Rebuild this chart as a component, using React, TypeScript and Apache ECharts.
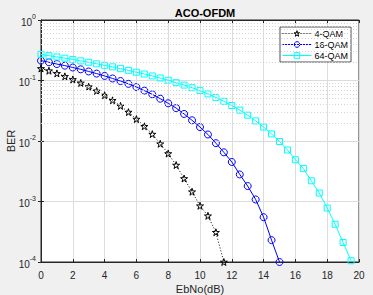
import React, { useEffect, useRef } from "react";
import * as echarts from "echarts";

const ebno4 = [0, 0.5, 1, 1.5, 2, 2.5, 3, 3.5, 4, 4.5, 5, 5.5, 6, 6.5, 7, 7.5, 8, 8.5, 9, 9.5, 10, 10.5, 11, 11.5];
const ber4 = [0.158, 0.145, 0.131, 0.117, 0.104, 0.091, 0.079, 0.067, 0.057, 0.047, 0.038, 0.030, 0.023, 0.0175, 0.013, 0.009, 0.0062, 0.004, 0.0024, 0.00145, 0.00085, 0.00058, 0.00031, 0.0001];

const ebno16 = [0, 0.5, 1, 1.5, 2, 2.5, 3, 3.5, 4, 4.5, 5, 5.5, 6, 6.5, 7, 7.5, 8, 8.5, 9, 9.5, 10, 10.5, 11, 11.5, 12, 12.5, 13, 13.5, 14, 14.5, 15];
const ber16 = [0.213, 0.2, 0.187, 0.176, 0.164, 0.153, 0.141, 0.13, 0.119, 0.108, 0.098, 0.088, 0.078, 0.068, 0.059, 0.05, 0.042, 0.035, 0.028, 0.022, 0.017, 0.0128, 0.0092, 0.0065, 0.0045, 0.0028, 0.0018, 0.00108, 0.00055, 0.00023, 0.0001];

const ebno64 = [0, 0.5, 1, 1.5, 2, 2.5, 3, 3.5, 4, 4.5, 5, 5.5, 6, 6.5, 7, 7.5, 8, 8.5, 9, 9.5, 10, 10.5, 11, 11.5, 12, 12.5, 13, 13.5, 14, 14.5, 15, 15.5, 16, 16.5, 17, 17.5, 18, 18.5, 19, 19.5];
const ber64 = [0.27, 0.257, 0.245, 0.234, 0.223, 0.211, 0.2, 0.189, 0.178, 0.168, 0.157, 0.147, 0.137, 0.128, 0.119, 0.11, 0.101, 0.092, 0.084, 0.076, 0.068, 0.06, 0.0525, 0.0453, 0.0386, 0.0324, 0.0267, 0.0215, 0.017, 0.0131, 0.0098, 0.0071, 0.0049, 0.0035, 0.0022, 0.00138, 0.00078, 0.00042, 0.00021, 0.000105];

const seriesNames = ["4-QAM", "16-QAM", "64-QAM"];
const seriesColors = ["#000000", "#0000ff", "#00ffff"];
const seriesDash: any[] = [[1, 2], "solid", "solid"];
const minorGridValues = [
  2e-4, 3e-4, 4e-4, 5e-4, 6e-4, 7e-4, 8e-4, 9e-4,
  2e-3, 3e-3, 4e-3, 5e-3, 6e-3, 7e-3, 8e-3, 9e-3,
  2e-2, 3e-2, 4e-2, 5e-2, 6e-2, 7e-2, 8e-2, 9e-2,
  0.2, 0.3, 0.4, 0.5, 0.6, 0.7, 0.8, 0.9,
];

const STAR = "path://M50,0 L61,35 L98,35 L68,57 L79,91 L50,70 L21,91 L32,57 L2,35 L39,35 Z";
const AX = "#262626";
const FONT = "'Liberation Sans', Arial, sans-serif";
const HOLLOW = "rgba(255,255,255,0)";

export default function App() {
  const ref = useRef<HTMLDivElement>(null);
  useEffect(() => {
    document.body.style.margin = "0";
    const chart = echarts.init(ref.current!, null, { renderer: "svg" });
    const pair = (xs: number[], ys: number[]) => xs.map((x, i) => [x, ys[i]]);
    chart.setOption({
      animation: false,
      backgroundColor: "#f0f0f0",
      textStyle: { fontFamily: FONT },
      title: {
        text: "ACO-OFDM",
        left: 200,
        top: 2,
        textAlign: "center",
        textStyle: { fontSize: 11, fontWeight: "bold", color: "#000", fontFamily: FONT },
      },
      legend: {
        data: seriesNames.map((n, i) => ({
          name: n,
          itemStyle: { color: HOLLOW, borderColor: seriesColors[i], borderWidth: 1 },
          lineStyle: { color: seriesColors[i], width: 1, type: seriesDash[i] },
        })),
        orient: "vertical",
        right: 22,
        top: 27,
        itemWidth: 29,
        itemHeight: 7,
        itemGap: 2,
        padding: [2, 3, 2, 2],
        backgroundColor: "#fff",
        borderColor: AX,
        borderWidth: 0.8,
        borderRadius: 0,
        textStyle: { fontSize: 9, color: "#000", fontFamily: FONT, padding: [0, 0, 0, -2] },
      },
      grid: {
        left: 41,
        right: 14,
        top: 20,
        bottom: 33,
        containLabel: false,
        outerBoundsMode: "none",
        show: true,
        backgroundColor: "#fff",
        borderColor: AX,
        borderWidth: 1,
      },
      xAxis: [
        {
          type: "value",
          min: 0,
          max: 20,
          interval: 2,
          name: "EbNo(dB)",
          nameLocation: "middle",
          nameGap: 21,
          nameMoveOverlap: false,
          nameTextStyle: { fontSize: 11, color: AX, fontFamily: FONT },
          axisLine: { show: true, lineStyle: { color: AX, width: 1 } },
          axisTick: { show: true, inside: true, length: 3, lineStyle: { color: AX } },
          axisLabel: { fontSize: 10, color: AX, margin: 8, fontFamily: FONT },
          splitLine: { show: true, lineStyle: { color: "#dcdcdc", width: 1 } },
        },
        {
          type: "value",
          position: "top",
          min: 0,
          max: 20,
          interval: 2,
          axisLine: { show: true, lineStyle: { color: AX, width: 1 } },
          axisTick: { show: true, inside: true, length: 3, lineStyle: { color: AX } },
          axisLabel: { show: false },
          splitLine: { show: false },
        },
      ],
      yAxis: [
        {
          type: "log",
          logBase: 10,
          min: 1e-4,
          max: 1,
          name: "BER",
          nameLocation: "middle",
          nameGap: 25,
          nameMoveOverlap: false,
          nameTextStyle: { fontSize: 11, color: AX, fontFamily: FONT },
          axisLine: { show: true, lineStyle: { color: AX, width: 1 } },
          axisTick: { show: true, inside: true, length: 3, lineStyle: { color: AX } },
          axisLabel: {
            color: AX,
            margin: 5,
            formatter: (v: number) => `{b|10}{s|${Math.round(Math.log10(v))}}`,
            rich: {
              b: { fontSize: 10, lineHeight: 14, color: AX, fontFamily: FONT, verticalAlign: "bottom" },
              s: { fontSize: 7, lineHeight: 8, color: AX, fontFamily: FONT, verticalAlign: "top" },
            },
          },
          splitLine: { show: true, lineStyle: { color: "#dcdcdc", width: 1 } },
        },
        {
          type: "log",
          logBase: 10,
          min: 1e-4,
          max: 1,
          position: "right",
          axisLine: { show: true, lineStyle: { color: AX, width: 1 } },
          axisTick: { show: true, inside: true, length: 3, lineStyle: { color: AX } },
          axisLabel: { show: false },
          splitLine: { show: false },
        },
      ],
      series: [
        {
          name: "minor",
          type: "line",
          data: [],
          silent: true,
          markLine: {
            silent: true,
            symbol: "none",
            label: { show: false },
            lineStyle: { color: "#d4d4d4", type: [1, 2], width: 1 },
            data: minorGridValues.map((v) => ({ yAxis: v })),
          },
        },
        {
          name: seriesNames[0],
          type: "line",
          data: pair(ebno4, ber4),
          symbol: STAR,
          symbolSize: 7,
          lineStyle: { color: seriesColors[0], width: 1, type: seriesDash[0] },
          itemStyle: { color: HOLLOW, borderColor: seriesColors[0], borderWidth: 1 },
        },
        {
          name: seriesNames[1],
          type: "line",
          data: pair(ebno16, ber16),
          symbol: "circle",
          symbolSize: 7,
          lineStyle: { color: seriesColors[1], width: 1, type: seriesDash[1] },
          itemStyle: { color: HOLLOW, borderColor: seriesColors[1], borderWidth: 1 },
        },
        {
          name: seriesNames[2],
          type: "line",
          data: pair(ebno64, ber64),
          symbol: "rect",
          symbolSize: 6,
          lineStyle: { color: seriesColors[2], width: 1, type: seriesDash[2] },
          itemStyle: { color: HOLLOW, borderColor: seriesColors[2], borderWidth: 1 },
        },
      ],
    });
    return () => chart.dispose();
  }, []);
  return <div ref={ref} style={{ width: 373, height: 295 }} />;
}
